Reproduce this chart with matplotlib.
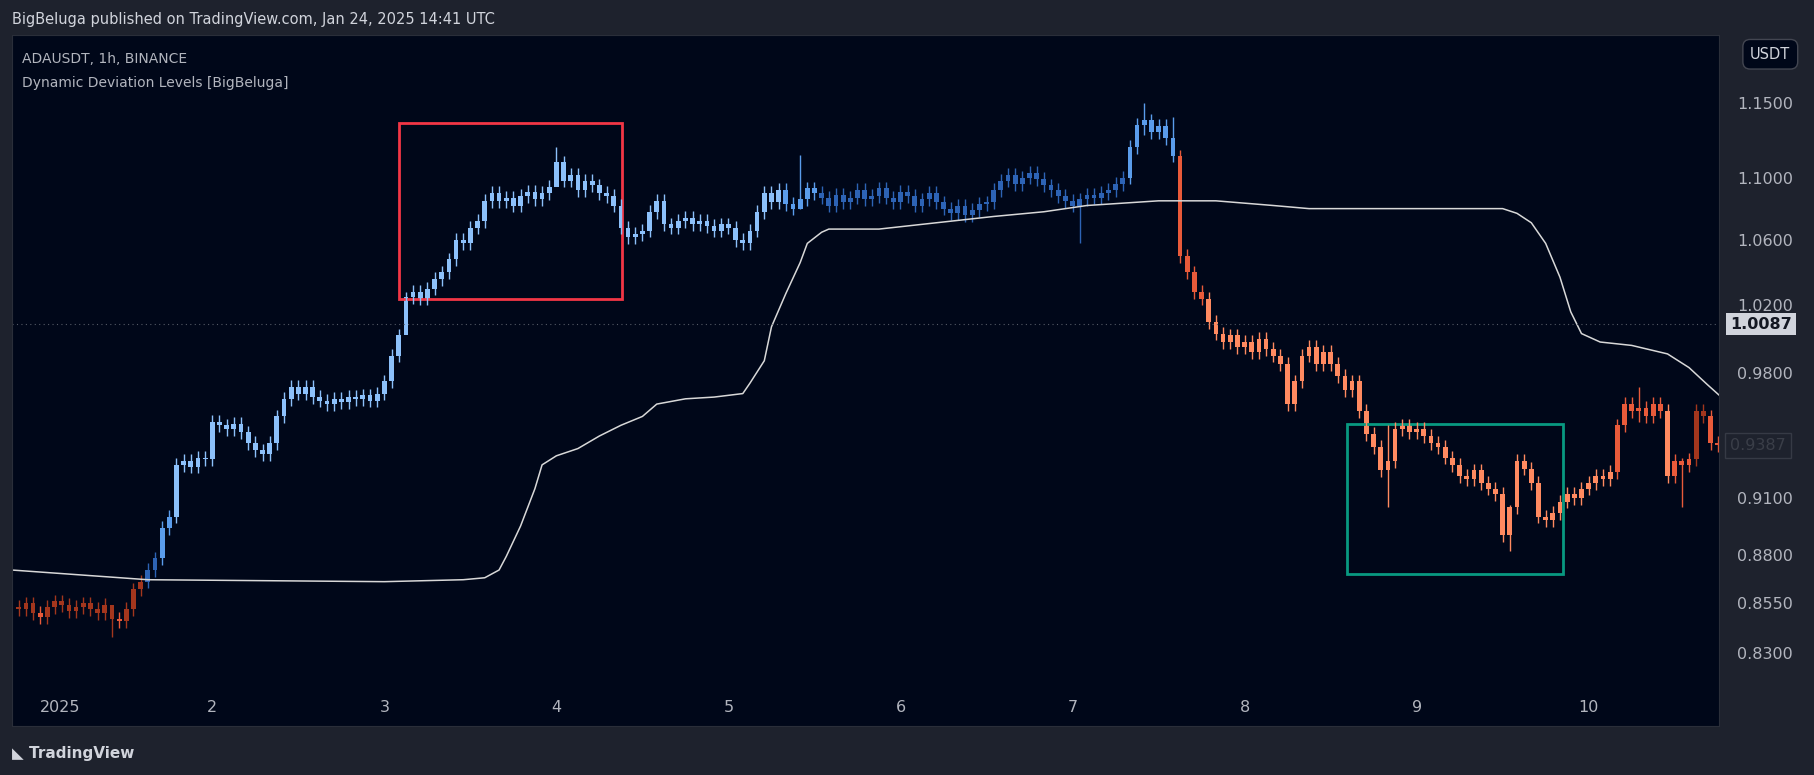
import numpy as np
import matplotlib.pyplot as plt
from matplotlib.patches import Rectangle
from matplotlib.ticker import FixedLocator, NullLocator

# hourly closes, hour 0 = Jan 1 00:00 UTC, first candle at hour -3
first_hour = -3
closes = [
    0.852, 0.855, 0.850, 0.848, 0.853, 0.856, 0.854, 0.851, 0.853, 0.855, 0.852, 0.850, 0.854, 0.847, 0.846,
    0.852, 0.862, 0.866, 0.872, 0.878, 0.894, 0.900, 0.928, 0.930, 0.927, 0.932, 0.931,
    0.952, 0.950, 0.948, 0.951, 0.946, 0.940, 0.936, 0.934, 0.940, 0.955, 0.965, 0.972,
    0.968, 0.972, 0.966, 0.964, 0.962, 0.965, 0.963, 0.966, 0.965, 0.967, 0.964, 0.968,
    0.975, 0.990, 1.002, 1.025, 1.028, 1.024, 1.030, 1.036, 1.040, 1.048, 1.060, 1.058,
    1.068, 1.072, 1.085, 1.090, 1.085, 1.087, 1.082, 1.088, 1.091, 1.086, 1.090, 1.094,
    1.110, 1.098, 1.102, 1.092, 1.098, 1.095, 1.090, 1.088, 1.082, 1.068, 1.062, 1.064,
    1.066, 1.078, 1.085, 1.070, 1.068, 1.072, 1.074, 1.070, 1.072, 1.069, 1.066, 1.070,
    1.068, 1.060, 1.058, 1.066, 1.078, 1.090, 1.084, 1.092, 1.083, 1.080, 1.086, 1.093,
    1.090, 1.087, 1.082, 1.089, 1.084, 1.087, 1.092, 1.086, 1.088, 1.093, 1.087, 1.084,
    1.091, 1.088, 1.082, 1.086, 1.090, 1.084, 1.080, 1.077, 1.082, 1.076, 1.079, 1.083,
    1.084, 1.092, 1.098, 1.102, 1.096, 1.100, 1.103, 1.099, 1.095, 1.092, 1.088, 1.085,
    1.082, 1.086, 1.089, 1.087, 1.090, 1.092, 1.096, 1.100, 1.120, 1.135, 1.138, 1.130,
    1.134, 1.126, 1.114, 1.050, 1.040, 1.028, 1.024, 1.010, 1.003, 0.998, 1.002, 0.995,
    0.998, 0.992, 1.000, 0.994, 0.990, 0.985, 0.962, 0.975, 0.990, 0.995, 0.985, 0.992,
    0.985, 0.978, 0.970, 0.975, 0.958, 0.945, 0.938, 0.925, 0.930, 0.948, 0.950, 0.946,
    0.948, 0.944, 0.940, 0.938, 0.932, 0.928, 0.922, 0.920, 0.925, 0.918, 0.915, 0.912,
    0.890, 0.905, 0.930, 0.926, 0.918, 0.900, 0.898, 0.902, 0.908, 0.912, 0.910, 0.915,
    0.918, 0.922, 0.920, 0.924, 0.950, 0.962, 0.958, 0.960, 0.955, 0.962, 0.958, 0.922,
    0.930, 0.928, 0.931, 0.958, 0.955, 0.940, 0.9387,
]
first_open = 0.853
# notable wicks: hour -> (high, low)
spikes = {10: (0.853, 0.838), 51: (1.028, 1.005), 72: (1.120, 1.095), 106: (1.115, 1.080),
          145: (1.090, 1.058), 154: (1.150, 1.128), 158: (1.140, 1.110), 188: (0.950, 0.905),
          205: (0.906, 0.882), 223: (0.972, 0.952), 229: (0.932, 0.905)}

# deviation level line (hour, price)
line_hours = [-4, 15, 48, 59, 62, 64, 65, 67, 69, 70, 72, 75, 78, 81, 84, 86, 90, 94, 98, 99,
              101, 102, 104, 106, 107, 109, 110, 117, 123, 133, 140, 146, 156, 164, 172, 177,
              204, 206, 208, 210, 212, 213.5, 215, 217.6, 222, 227, 230, 232.6, 234.5]
line_prices = [0.872, 0.867, 0.866, 0.867, 0.868, 0.872, 0.879, 0.895, 0.915, 0.928, 0.933,
               0.937, 0.944, 0.950, 0.955, 0.962, 0.965, 0.966, 0.968, 0.974, 0.987, 1.007,
               1.027, 1.046, 1.058, 1.065, 1.067, 1.067, 1.070, 1.075, 1.078, 1.082, 1.085,
               1.085, 1.082, 1.080, 1.080, 1.077, 1.071, 1.058, 1.037, 1.016, 1.003, 0.998,
               0.996, 0.991, 0.983, 0.973, 0.966]

day_labels = ["2025", "2", "3", "4", "5", "6", "7", "8", "9", "10"]
price_ticks = [1.15, 1.10, 1.06, 1.02, 0.98, 0.91, 0.88, 0.855, 0.83]
last_price = 1.0087
close_price = 0.9387

BG_OUT = "#1e222d"
BG = "#000719"
TXT = "#b2b5be"

fig = plt.figure(figsize=(18.14, 7.75), dpi=100, facecolor=BG_OUT)
ax = fig.add_axes([0.0064, 0.063, 0.9413, 0.892])
ax.set_facecolor(BG)
for s in ax.spines.values():
    s.set_color("#2a2e39")

hours = np.arange(first_hour, first_hour + len(closes))
opens = [first_open] + closes[:-1]
lvl = np.interp(hours, line_hours, line_prices)

for h, o, c, l in zip(hours, opens, closes, lvl):
    top, bot = max(o, c), min(o, c)
    hi, lo = spikes.get(h, (top * 1.004, bot * 0.996))
    d = abs(c - l) / l
    if c >= l:
        col = "#8cc0fa" if d > 0.06 else ("#5a9ceb" if d > 0.025 else "#2d63b5")
    else:
        col = "#ff8a60" if d > 0.06 else ("#e85a3a" if d > 0.025 else "#a3361d")
    ax.vlines(h, lo, hi, color=col, lw=1)
    ax.add_patch(Rectangle((h - 0.33, bot), 0.66, max(top - bot, 0.0006), color=col, lw=0))

ax.plot(line_hours, line_prices, color="#d8d8d8", lw=1.1)

ax.add_patch(Rectangle((50, 1.024), 31.1, 0.112, fill=False, ec="#f23645", lw=2))
ax.add_patch(Rectangle((182.3, 0.870), 30.1, 0.081, fill=False, ec="#089981", lw=2))

ax.axhline(last_price, color="#555a66", lw=0.8, ls=(0, (1, 3)))

ax.set_yscale("log")
ax.set_xlim(-4, 234.2)
ax.set_ylim(0.795, 1.197)
ax.yaxis.set_major_locator(FixedLocator(price_ticks))
ax.yaxis.set_minor_locator(NullLocator())
ax.yaxis.tick_right()
ax.set_yticklabels([f"{v:.4f}" for v in price_ticks])
ax.tick_params(axis="y", length=0, pad=13, labelsize=11.5, labelcolor=TXT)
ax.set_xticks([])

tr = ax.get_xaxis_transform()
for i, lab in enumerate(day_labels):
    ax.text(i * 24, 0.027, lab, transform=tr, color=TXT, fontsize=11.5,
            ha="center" if i else "left", va="center")

ax.annotate(f"{last_price:.4f}", xy=(1, last_price), xycoords=("axes fraction", "data"),
            xytext=(8, 0), textcoords="offset points", ha="left", va="center",
            fontsize=11.5, fontweight="bold", color="#131722",
            bbox=dict(boxstyle="square,pad=0.25", fc="#d1d4dc", ec="none"))
ax.annotate(f"{close_price:.4f}", xy=(1, close_price), xycoords=("axes fraction", "data"),
            xytext=(8, 0), textcoords="offset points", ha="left", va="center",
            fontsize=11.5, color="#3a3e48",
            bbox=dict(boxstyle="square,pad=0.3", fc=BG_OUT, ec="#363a45"))

ax.text(0.006, 0.975, "ADAUSDT, 1h, BINANCE", transform=ax.transAxes, color=TXT,
        fontsize=10, va="top")
ax.text(0.006, 0.94, "Dynamic Deviation Levels [BigBeluga]", transform=ax.transAxes,
        color=TXT, fontsize=10, va="top")

fig.text(0.0064, 0.975, "BigBeluga published on TradingView.com, Jan 24, 2025 14:41 UTC",
         color="#d1d4dc", fontsize=10.5, va="center")
fig.text(0.987, 0.93, "USDT", color="#d1d4dc", fontsize=10.5, ha="right", va="center",
         bbox=dict(boxstyle="round,pad=0.5", fc=BG, ec="#434651"))
fig.text(0.0064, 0.028, "\u25E3 TradingView", color="#d1d4dc", fontsize=11,
         fontweight="bold", va="center")

fig.savefig("out.png", dpi=100, facecolor=BG_OUT)
